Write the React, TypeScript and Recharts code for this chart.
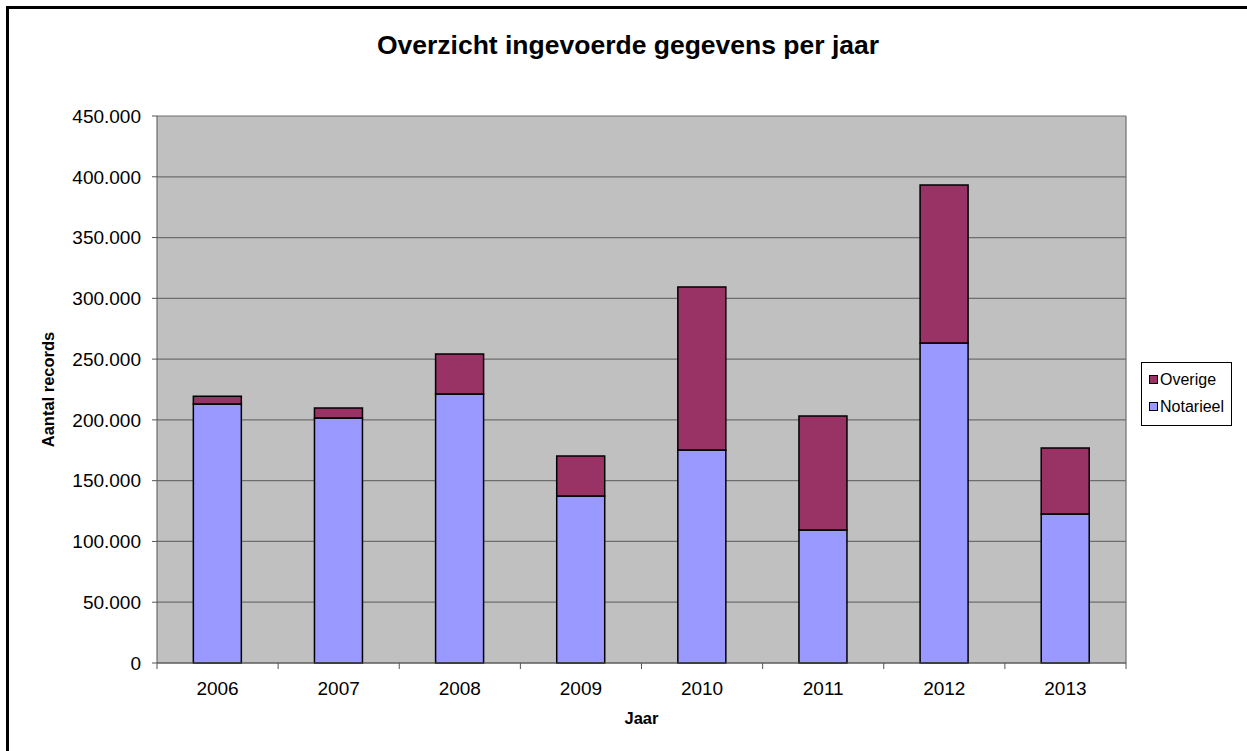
import { BarChart, Bar, XAxis, YAxis, CartesianGrid } from "recharts";

const years = ["2006", "2007", "2008", "2009", "2010", "2011", "2012", "2013"];
const notarieel = [213000, 201500, 221300, 137400, 175200, 109400, 263200, 122600];
const overige = [6500, 8300, 32900, 32900, 134100, 93800, 130000, 54300];
const yTicks = [0, 50000, 100000, 150000, 200000, 250000, 300000, 350000, 400000, 450000];

const data = years.map((year, i) => ({
  year,
  notarieel: notarieel[i],
  overige: overige[i],
}));

const W = 1247;
const H = 751;
const PLOT_LEFT = 157;
const PLOT_RIGHT = 1126;
const PLOT_TOP = 116;
const PLOT_BOTTOM = 663;
const FONT = "'Liberation Sans', Arial, sans-serif";

const fmt = (v: number) => (v === 0 ? "0" : `${v / 1000}.000`);

const band = (PLOT_RIGHT - PLOT_LEFT) / years.length;

function YearTick(props: any) {
  const { x, payload, index } = props;
  const left = x - band / 2;
  return (
    <g>
      <line x1={left} y1={PLOT_BOTTOM} x2={left} y2={PLOT_BOTTOM + 6} stroke="#555" />
      {index === years.length - 1 && (
        <line x1={left + band} y1={PLOT_BOTTOM} x2={left + band} y2={PLOT_BOTTOM + 6} stroke="#555" />
      )}
      <text x={x} y={PLOT_BOTTOM + 32} textAnchor="middle" fontSize={19} fontFamily={FONT} fill="#000">
        {payload.value}
      </text>
    </g>
  );
}

const legendItems = [
  { label: "Overige", color: "#993366" },
  { label: "Notarieel", color: "#9999ff" },
];

function LegendBox() {
  return (
    <div
      style={{
        position: "absolute",
        left: 1141,
        top: 362,
        width: 91,
        height: 64,
        border: "1px solid #000",
        background: "#fff",
        boxSizing: "border-box",
        padding: "3px 0 0 7px",
        fontFamily: FONT,
        fontSize: 16,
      }}
    >
      {legendItems.map((it) => (
        <div key={it.label} style={{ display: "flex", alignItems: "center", height: 27 }}>
          <span
            style={{
              width: 7,
              height: 7,
              background: it.color,
              border: "1px solid #000",
              marginRight: 2,
              flexShrink: 0,
            }}
          />
          <span>{it.label}</span>
        </div>
      ))}
    </div>
  );
}

export default function App() {
  return (
    <div style={{ position: "absolute", left: 0, top: 0, width: W, height: H, background: "#fff", overflow: "hidden" }}>
      <div
        style={{
          position: "absolute",
          left: 6,
          top: 6,
          width: W + 20,
          height: H + 20,
          borderLeft: "3px solid #000",
          borderTop: "3px solid #000",
        }}
      />
      <div
        style={{
          position: "absolute",
          left: 6,
          width: 1244,
          top: 30,
          textAlign: "center",
          fontFamily: FONT,
          fontWeight: "bold",
          fontSize: 26.5,
          lineHeight: "30px",
        }}
      >
        Overzicht ingevoerde gegevens per jaar
      </div>
      <div style={{ position: "absolute", left: 0, top: 0 }}>
        <BarChart
          width={W}
          height={H}
          data={data}
          margin={{ top: PLOT_TOP, right: W - PLOT_RIGHT, bottom: 0, left: 0 }}
          barCategoryGap="30%"
        >
          <CartesianGrid
            fill="#c0c0c0"
            stroke="#6e6e6e"
            strokeWidth={1.2}
            verticalCoordinatesGenerator={({ offset }: any) => [offset.left + offset.width]}
          />
          <XAxis
            dataKey="year"
            height={H - PLOT_BOTTOM}
            axisLine={{ stroke: "#555" }}
            tickLine={false}
            tick={<YearTick />}
            interval={0}
            label={{
              value: "Jaar",
              position: "insideTop",
              offset: 49,
              style: { fontFamily: FONT, fontWeight: "bold", fontSize: 16.5, fill: "#000" },
            }}
          />
          <YAxis
            width={PLOT_LEFT}
            domain={[0, 450000]}
            ticks={yTicks}
            tickFormatter={fmt}
            interval={0}
            axisLine={{ stroke: "#555" }}
            tickLine={{ stroke: "#555" }}
            tickSize={5}
            tickMargin={11}
            tick={{ fontFamily: FONT, fontSize: 19, fill: "#000" }}
            label={{
              value: "Aantal records",
              angle: -90,
              position: "insideLeft",
              offset: 48,
              style: { fontFamily: FONT, fontWeight: "bold", fontSize: 16.5, fill: "#000", textAnchor: "middle" },
            }}
          />
          <Bar
            dataKey="notarieel"
            name="Notarieel"
            stackId="a"
            fill="#9999ff"
            stroke="#000"
            strokeWidth={1.5}
            isAnimationActive={false}
          />
          <Bar
            dataKey="overige"
            name="Overige"
            stackId="a"
            fill="#993366"
            stroke="#000"
            strokeWidth={1.5}
            isAnimationActive={false}
          />
        </BarChart>
      </div>
      <LegendBox />
    </div>
  );
}
